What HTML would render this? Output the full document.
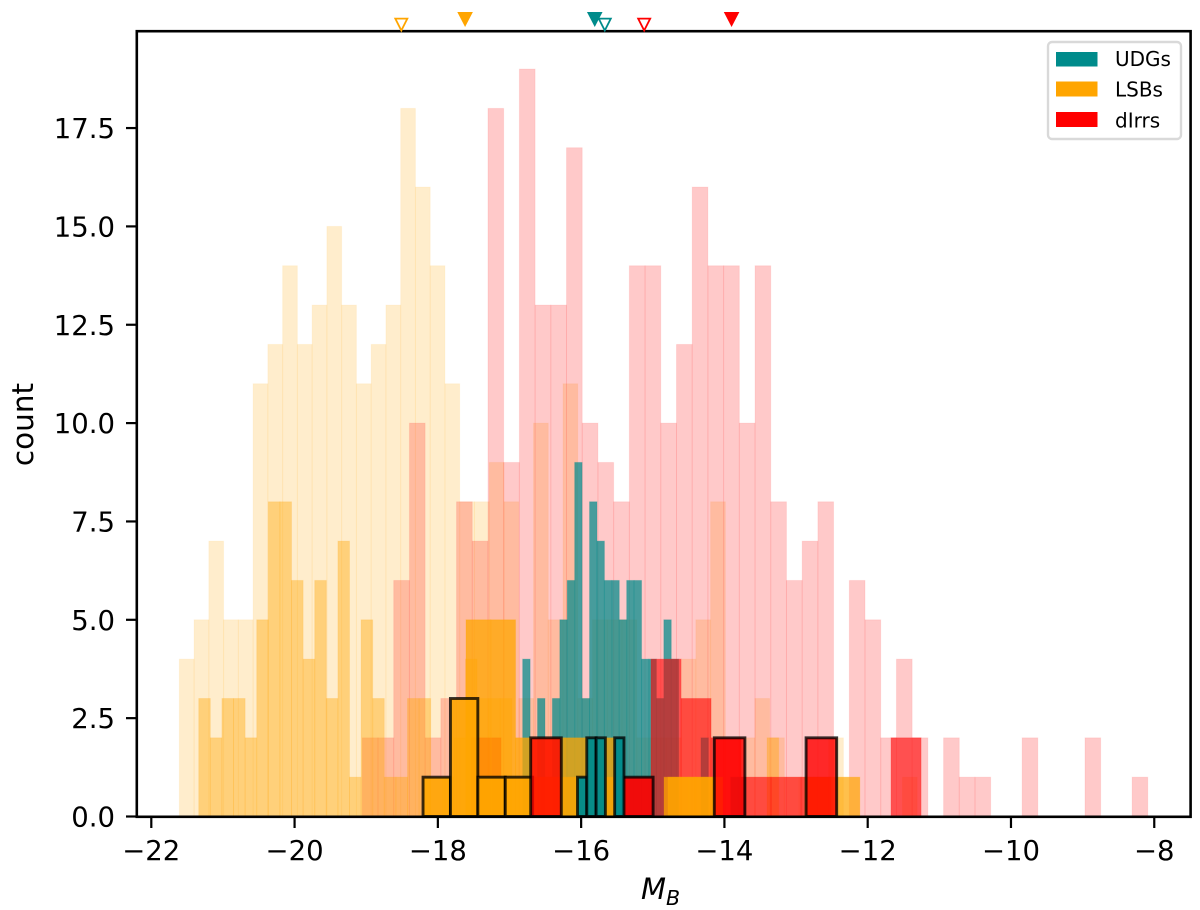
<!DOCTYPE html>
<html>
<head>
<meta charset="utf-8">
<title>M_B histogram</title>
<style>
html,body{margin:0;padding:0;background:#fff;}
svg{display:block;font-family:"DejaVu Sans","Liberation Sans",sans-serif;filter:blur(0.35px);}
</style>
</head>
<body>
<svg id="chart" width="1200" height="910" viewBox="0 0 1200 910" xmlns="http://www.w3.org/2000/svg">
  <rect x="0" y="0" width="1200" height="910" fill="#fff"/>
  <g id="bars"></g>
  <g id="axes"></g>
  <g id="markers"></g>
  <g>
    <rect x="1048" y="42" width="133" height="97" rx="4" fill="#fff" fill-opacity="0.8" stroke="#d9d9d9" stroke-width="2.4"/>
    <rect x="1056" y="52" width="41.5" height="14.5" fill="#008b8b"/>
    <text x="1115" y="66" font-size="20" fill="#000">UDGs</text>
    <rect x="1056" y="81.5" width="41.5" height="15" fill="#ffa500"/>
    <text x="1115" y="96.5" font-size="20" fill="#000">LSBs</text>
    <rect x="1056" y="112" width="41.5" height="15" fill="#ff0000"/>
    <text x="1115" y="127.5" font-size="20" fill="#000">dIrrs</text>
  </g>
</svg>
<script>
// ---- tick labels ----
const xTicks = [-22, -20, -18, -16, -14, -12, -10, -8];
const yTicks = [0, 2.5, 5, 7.5, 10, 12.5, 15, 17.5];

// ---- histogram counts ----
const lsbAllStart = -21.609;
const lsbAllWidth = 0.2060;
const lsbAllCounts = [4,5,7,5,5,11,12,14,12,13,15,13,11,12,13,18,16,14,11,8,8,9,8,3,10,5,11,3,5,5,5,2,2,2,4,5,8,2,2,3,2,1,1,1,2,0,0,0,0,1];

const dirrAllStart = -19.055;
const dirrAllWidth = 0.2193;
const dirrAllCounts = [2,2,6,10,2,3,8,7,18,9,19,13,13,17,10,9,8,14,14,10,12,16,14,14,10,14,8,6,7,8,0,6,5,2,4,2,0,2,1,1,0,0,2,0,0,0,2,0,0,1];

const udgMidStart = -16.816;
const udgMidWidth = 0.1037;
const udgMidCounts = [4,0,3,0,3,5,6,9,3,8,7,6,6,5,6,6,4,4,3,5,4,0,0,0,2,0,0,0,1,1];

const lsbMidStart = -21.338;
const lsbMidWidth = 0.1619;
const lsbMidCounts = [3,2,3,3,2,5,8,8,6,4,6,3,7,1,5,3,1,1,3,3,0,1,2,4,3,3,3,0,0,0,0,0,0,0,0,0,0,0,0,0,0,0,0,0,0,0,0,0,0,2];

const dirrMidStart = -17.537;
const dirrMidWidth = 0.4188;
const dirrMidCounts = [2,0,1,0,0,1,4,3,2,1,1,1,0,0,2];

const lsbHiStart = -17.607;
const lsbHiWidth = 0.3455;
const lsbHiCounts = [5,5,2,2,2,2,0,0,1,1];

const lsbStrongStart = -16.700;
const lsbStrongWidth = 0.3825;
const lsbStrongCounts = [1,1,1,0,0,1,1,0,0,0,1,1];

const lsbBoldStart = -18.207;
const lsbBoldWidth = 0.3825;
const lsbBoldCounts = [1,3,1,1];

const dirrBoldStart = -16.704;
const dirrBoldWidth = 0.4271;
const dirrBoldCounts = [2,0,0,1,0,0,2,0,0,2];

const udgBoldStart = -16.051;
const udgBoldWidth = 0.1298;
const udgBoldCounts = [1,2,2,0,2];

// ---- median markers (M_B values) ----
const markerValues = [-17.62, -15.81, -13.90];
const hollowMarkerValues = [-18.51, -15.67, -15.12];
const markerColors = ['#ffa500', '#008b8b', '#ff0000'];

// ---- axis functions ----
const xZero = 151.3, xPerUnit = 71.64, yZero = 816.5, yPerUnit = 39.34;
function xAxis(v) { return xZero + (v + 22) * xPerUnit; }
function yAxis(v) { return yZero - v * yPerUnit; }

const NS = 'http://www.w3.org/2000/svg';
const barsG = document.getElementById('bars');
const axesG = document.getElementById('axes');
const markersG = document.getElementById('markers');

function drawHist(name, start, width, counts, color, alpha, bold) {
  counts.forEach(function (c, i) {
    if (!c) return;
    const el = document.createElementNS(NS, 'rect');
    
    
    const x0 = xAxis(start + i * width), x1 = xAxis(start + (i + 1) * width);
    el.setAttribute('x', x0);
    el.setAttribute('y', yAxis(c));
    el.setAttribute('width', x1 - x0);
    el.setAttribute('height', yAxis(0) - yAxis(c));
    el.setAttribute('fill', color);
    el.setAttribute('fill-opacity', alpha);
    if (bold) {
      el.setAttribute('stroke', '#000');
      el.setAttribute('stroke-opacity', '0.78');
      el.setAttribute('stroke-width', '2.9');
    } else {
      el.setAttribute('stroke', color);
      el.setAttribute('stroke-opacity', alpha * 0.35);
      el.setAttribute('stroke-width', '1');
    }
    barsG.appendChild(el);
  });
}

drawHist('lsb-all', lsbAllStart, lsbAllWidth, lsbAllCounts, '#ffa500', 0.2, false);
drawHist('dirr-all', dirrAllStart, dirrAllWidth, dirrAllCounts, '#ff0000', 0.21, false);
drawHist('udg-mid', udgMidStart, udgMidWidth, udgMidCounts, '#008b8b', 0.72, false);
drawHist('lsb-mid', lsbMidStart, lsbMidWidth, lsbMidCounts, '#ffa500', 0.4, false);
drawHist('dirr-mid', dirrMidStart, dirrMidWidth, dirrMidCounts, '#ff0000', 0.6, false);
drawHist('lsb-hi', lsbHiStart, lsbHiWidth, lsbHiCounts, '#ffa500', 0.75, false);
drawHist('lsb-strong', lsbStrongStart, lsbStrongWidth, lsbStrongCounts, '#ffa500', 0.7, false);
drawHist('lsb-bold', lsbBoldStart, lsbBoldWidth, lsbBoldCounts, '#ffa500', 0.9, true);
drawHist('dirr-bold', dirrBoldStart, dirrBoldWidth, dirrBoldCounts, '#ff0000', 0.8, true);
drawHist('udg-bold', udgBoldStart, udgBoldWidth, udgBoldCounts, '#008b8b', 0.97, true);

// ---- axes ----
const frame = document.createElementNS(NS, 'rect');


frame.setAttribute('x', 136.8);
frame.setAttribute('y', 31.2);
frame.setAttribute('width', 1053.8);
frame.setAttribute('height', 785.6);
frame.setAttribute('fill', 'none');
frame.setAttribute('stroke', '#000');
frame.setAttribute('stroke-width', '2.6');
axesG.appendChild(frame);

xTicks.forEach(function (t) {
  const line = document.createElementNS(NS, 'line');
  
  
  line.setAttribute('x1', xAxis(t));
  line.setAttribute('x2', xAxis(t));
  line.setAttribute('y1', 817);
  line.setAttribute('y2', 828);
  line.setAttribute('stroke', '#000');
  line.setAttribute('stroke-width', '2.2');
  axesG.appendChild(line);
  const label = document.createElementNS(NS, 'text');
  
  
  label.setAttribute('x', xAxis(t));
  label.setAttribute('y', 860);
  label.setAttribute('text-anchor', 'middle');
  label.setAttribute('font-size', '27.5');
  label.textContent = '\u2212' + Math.abs(t);
  axesG.appendChild(label);
});

yTicks.forEach(function (t) {
  const line = document.createElementNS(NS, 'line');
  
  
  line.setAttribute('x1', 126);
  line.setAttribute('x2', 137);
  line.setAttribute('y1', yAxis(t));
  line.setAttribute('y2', yAxis(t));
  line.setAttribute('stroke', '#000');
  line.setAttribute('stroke-width', '2.2');
  axesG.appendChild(line);
  const label = document.createElementNS(NS, 'text');
  
  
  label.setAttribute('x', 115);
  label.setAttribute('y', yAxis(t) + 10);
  label.setAttribute('text-anchor', 'end');
  label.setAttribute('font-size', '27.5');
  label.textContent = t.toFixed(1);
  axesG.appendChild(label);
});

const yTitle = document.createElementNS(NS, 'text');


yTitle.setAttribute('transform', 'translate(33 424.5) rotate(-90)');
yTitle.setAttribute('text-anchor', 'middle');
yTitle.setAttribute('font-size', '29.5');
yTitle.textContent = 'count';
axesG.appendChild(yTitle);

const xTitle = document.createElementNS(NS, 'text');


xTitle.setAttribute('x', 641);
xTitle.setAttribute('y', 899);
xTitle.setAttribute('font-size', '29');
xTitle.setAttribute('font-style', 'italic');
xTitle.textContent = 'M';
const xSub = document.createElementNS(NS, 'tspan');


xSub.setAttribute('dy', '6');
xSub.setAttribute('font-size', '20.5');
xSub.textContent = 'B';
xTitle.appendChild(xSub);
axesG.appendChild(xTitle);

// ---- markers ----
markerValues.forEach(function (v, i) {
  const cx = xAxis(v);
  const el = document.createElementNS(NS, 'polygon');
  
  
  el.setAttribute('points', (cx - 7.8) + ',12 ' + (cx + 7.8) + ',12 ' + cx + ',27');
  el.setAttribute('fill', markerColors[i]);
  markersG.appendChild(el);
});
hollowMarkerValues.forEach(function (v, i) {
  const cx = xAxis(v);
  const el = document.createElementNS(NS, 'polygon');
  
  
  el.setAttribute('points', (cx - 6) + ',18.6 ' + (cx + 6) + ',18.6 ' + cx + ',30.5');
  el.setAttribute('fill', '#fff');
  el.setAttribute('stroke', markerColors[i]);
  el.setAttribute('stroke-width', '1.8');
  markersG.appendChild(el);
});
</script>
</body>
</html>
